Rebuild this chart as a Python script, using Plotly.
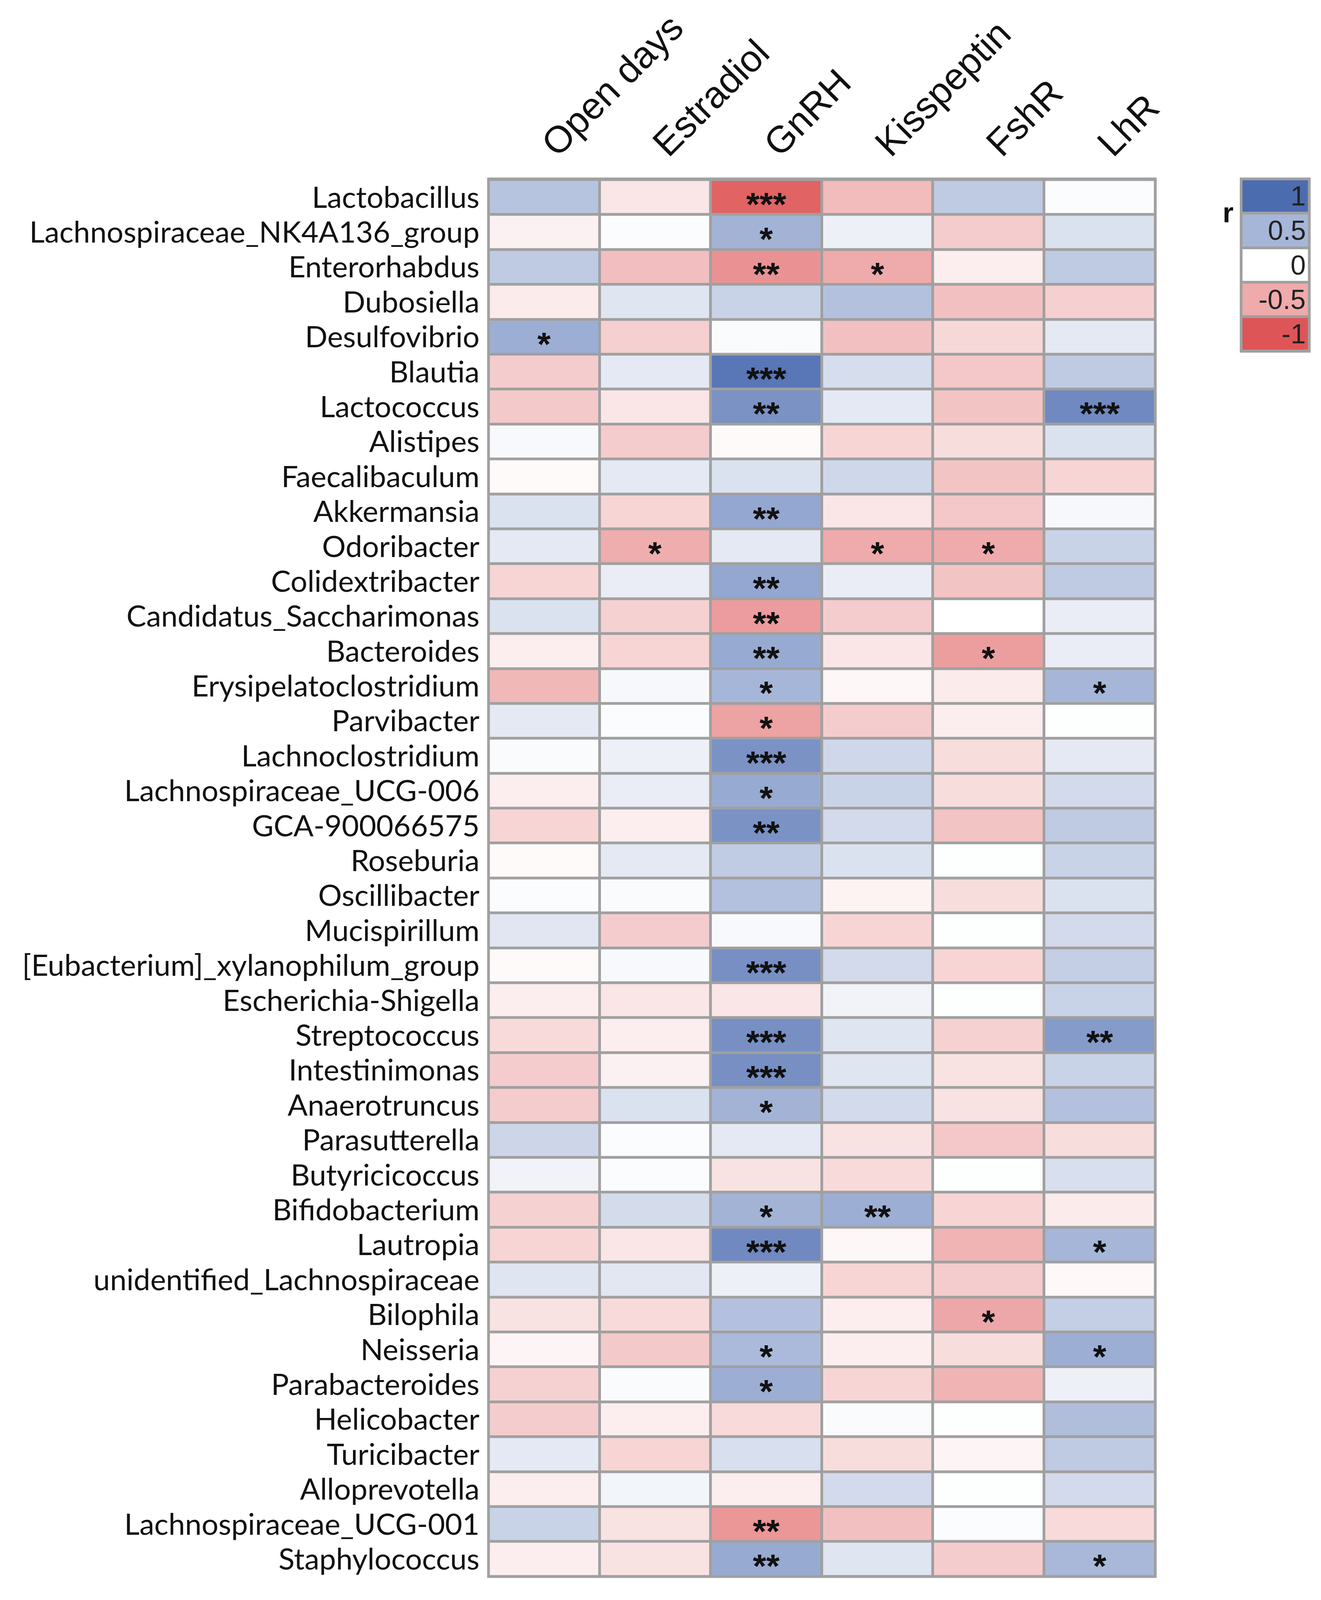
import plotly.graph_objects as go

W = 3383

genera = [
    "Lactobacillus", "Lachnospiraceae_NK4A136_group", "Enterorhabdus", "Dubosiella",
    "Desulfovibrio", "Blautia", "Lactococcus", "Alistipes", "Faecalibaculum",
    "Akkermansia", "Odoribacter", "Colidextribacter", "Candidatus_Saccharimonas",
    "Bacteroides", "Erysipelatoclostridium", "Parvibacter", "Lachnoclostridium",
    "Lachnospiraceae_UCG-006", "GCA-900066575", "Roseburia", "Oscillibacter",
    "Mucispirillum", "[Eubacterium]_xylanophilum_group", "Escherichia-Shigella",
    "Streptococcus", "Intestinimonas", "Anaerotruncus", "Parasutterella",
    "Butyricicoccus", "Bifidobacterium", "Lautropia", "unidentified_Lachnospiraceae",
    "Bilophila", "Neisseria", "Parabacteroides", "Helicobacter", "Turicibacter",
    "Alloprevotella", "Lachnospiraceae_UCG-001", "Staphylococcus",
]
variables = ["Open days", "Estradiol", "GnRH", "Kisspeptin", "FshR", "LhR"]

# correlation r, one list per variable (top to bottom)
r_open_days = [0.4, -0.08, 0.36, -0.12, 0.55, -0.3, -0.32, 0.04, -0.03, 0.2,
               0.15, -0.25, 0.2, -0.1, -0.42, 0.15, 0.03, -0.1, -0.25, -0.03,
               0.02, 0.17, -0.03, -0.1, -0.22, -0.3, -0.3, 0.28, 0.08, -0.27,
               -0.25, 0.18, -0.17, -0.06, -0.27, -0.3, 0.15, -0.1, 0.3, -0.1]
r_estradiol = [-0.15, 0.02, -0.38, 0.18, -0.28, 0.15, -0.15, -0.3, 0.15, -0.25,
               -0.48, 0.12, -0.27, -0.25, 0.05, 0.02, 0.1, 0.12, -0.1, 0.15,
               0.03, -0.3, 0.04, -0.15, -0.1, -0.08, 0.2, 0.02, 0.02, 0.24,
               -0.15, 0.16, -0.22, -0.32, 0.03, -0.1, -0.25, 0.07, -0.17, -0.17]
r_gnrh = [-0.92, 0.52, -0.64, 0.3, 0.03, 0.93, 0.74, -0.03, 0.2, 0.6,
          0.15, 0.6, -0.58, 0.58, 0.5, -0.55, 0.74, 0.58, 0.74, 0.35,
          0.42, 0.04, 0.76, -0.15, 0.76, 0.76, 0.52, 0.15, -0.17, 0.52,
          0.8, 0.1, 0.42, 0.47, 0.55, -0.22, 0.22, -0.1, -0.62, 0.58]
r_kisspeptin = [-0.4, 0.1, -0.5, 0.42, -0.37, 0.23, 0.15, -0.25, 0.27, -0.15,
                -0.5, 0.12, -0.3, -0.15, -0.05, -0.3, 0.27, 0.3, 0.25, 0.2,
                -0.07, -0.25, 0.25, 0.08, 0.18, 0.18, 0.25, -0.17, -0.22, 0.55,
                -0.05, -0.25, -0.1, -0.1, -0.25, 0.03, -0.2, 0.25, -0.37, 0.18]
r_fshr = [0.36, -0.3, -0.1, -0.37, -0.23, -0.33, -0.35, -0.2, -0.35, -0.33,
          -0.5, -0.35, 0.0, -0.57, -0.12, -0.1, -0.2, -0.2, -0.35, 0.01,
          -0.2, 0.01, -0.25, 0.01, -0.27, -0.17, -0.17, -0.33, 0.01, -0.25,
          -0.44, -0.3, -0.52, -0.2, -0.44, 0.01, -0.06, 0.01, 0.02, -0.3]
r_lhr = [0.02, 0.2, 0.36, -0.28, 0.15, 0.36, 0.8, 0.2, -0.25, 0.05,
         0.3, 0.36, 0.12, 0.12, 0.5, 0.01, 0.15, 0.25, 0.36, 0.3,
         0.2, 0.25, 0.33, 0.3, 0.68, 0.3, 0.42, -0.2, 0.22, -0.12,
         0.5, -0.04, 0.33, 0.55, 0.1, 0.44, 0.36, 0.25, -0.22, 0.48]

# significance marks, one list per variable
sig_open_days = [""] * 4 + ["*"] + [""] * 35
sig_estradiol = [""] * 10 + ["*"] + [""] * 29
sig_gnrh = ["***", "*", "**", "", "", "***", "**", "", "", "**",
            "", "**", "**", "**", "*", "*", "***", "*", "**", "",
            "", "", "***", "", "***", "***", "*", "", "", "*",
            "***", "", "", "*", "*", "", "", "", "**", "**"]
sig_kisspeptin = ["", "", "*"] + [""] * 7 + ["*"] + [""] * 18 + ["**"] + [""] * 10
sig_fshr = [""] * 10 + ["*", "", "", "*"] + [""] * 18 + ["*"] + [""] * 7
sig_lhr = [""] * 6 + ["***"] + [""] * 7 + ["*"] + [""] * 9 + ["**"] + [""] * 5 + \
          ["*"] + [""] * 2 + ["*"] + [""] * 5 + ["*"]

legend_ticks = [1, 0.5, 0, -0.5, -1]
legend_labels = ["1", "0.5", "0", "-0.5", "-1"]

r_cols = [r_open_days, r_estradiol, r_gnrh, r_kisspeptin, r_fshr, r_lhr]
sig_cols = [sig_open_days, sig_estradiol, sig_gnrh, sig_kisspeptin, sig_fshr, sig_lhr]
z = [[col[i] for col in r_cols] for i in range(len(genera))]

scale = [[0, "#DE5557"], [0.5, "#FFFFFF"], [1, "#4C6CB0"]]
grid_col = "#A0A0A0"

# margins in px so the header and labels keep their size; the grid takes the rest
m_left, m_right, m_top, m_bottom = 1243, 8, 408, 48
plot_w = W - m_left - m_right

fig = go.Figure()
fig.add_trace(go.Heatmap(
    z=z, x=variables, y=genera, colorscale=scale, zmin=-1, zmax=1,
    xgap=7, ygap=7, showscale=False, hoverinfo="skip",
))
fig.add_trace(go.Heatmap(
    z=[[v] for v in legend_ticks], x=[0], y=legend_ticks,
    colorscale=scale, zmin=-1, zmax=1, ygap=7, showscale=False,
    hoverinfo="skip", xaxis="x2", yaxis="y2",
))

annots = []
for j, var in enumerate(variables):
    for i, g in enumerate(genera):
        s = sig_cols[j][i]
        if s:
            annots.append(dict(x=var, y=g, text="<b>" + s + "</b>", showarrow=False, yshift=-17,
                               height=56, valign="middle",
                               font=dict(family="Liberation Sans", size=88, color="#111111")))
for v, lab in zip(legend_ticks, legend_labels):
    annots.append(dict(x=0.96, xref="x2 domain", y=v, yref="y2", text=lab,
                       xanchor="right", showarrow=False,
                       font=dict(family="Liberation Sans Narrow, Liberation Sans", size=70,
                                 color="#222222")))
annots.append(dict(x=-0.1, y=0.9, xref="x2 domain", yref="y2 domain", text="<b>r</b>",
                   xanchor="right", showarrow=False,
                   font=dict(family="Liberation Sans", size=72, color="#111111")))

fig.update_layout(
    width=W,
    margin=dict(l=m_left, r=m_right, t=m_top, b=m_bottom),
    paper_bgcolor="white", plot_bgcolor=grid_col,
    annotations=annots,
    xaxis=dict(domain=[0, (2975 - m_left) / plot_w], side="top", tickangle=-45,
               showgrid=False, zeroline=False, ticks="", ticklabelstandoff=18,
               tickfont=dict(family="Liberation Sans", size=96, color="#111111")),
    yaxis=dict(domain=[0, 1], autorange="reversed", tickmode="array",
               tickvals=genera, ticktext=genera,
               showgrid=False, zeroline=False, ticks="", ticklabelstandoff=22,
               tickfont=dict(family="Lato", size=76, color="#111111")),
    xaxis2=dict(domain=[(3198 - m_left) / plot_w, (3375 - m_left) / plot_w],
                anchor="y2", visible=False),
    yaxis2=dict(domain=[1 - 465 / 3770, 1], anchor="x2", visible=False,
                range=[-1.25, 1.25]),
    shapes=[
        dict(type="rect", xref="x domain", yref="y domain", x0=0, x1=1, y0=0, y1=1,
             line=dict(color=grid_col, width=7)),
        dict(type="rect", xref="x2 domain", yref="y2 domain", x0=0, x1=1, y0=0, y1=1,
             line=dict(color=grid_col, width=7)),
    ],
)

fig.write_html("out.html", default_height="calc(100vh - 20px)")
